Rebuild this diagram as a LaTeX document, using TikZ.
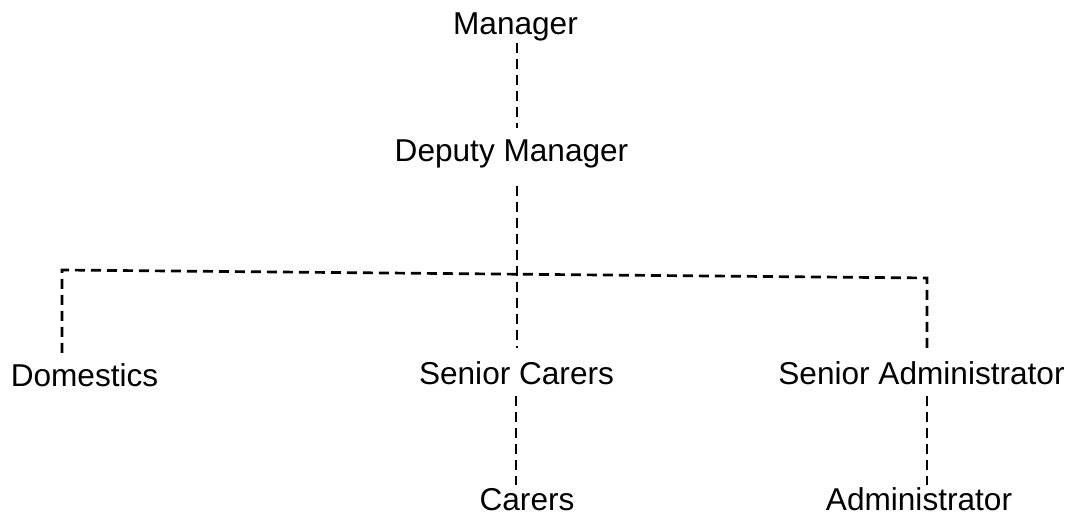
\documentclass[tikz,border=0pt]{standalone}
\usepackage{fontspec}
\setmainfont{Liberation Sans}
\begin{document}
\begin{tikzpicture}[x=0.5pt,y=-0.5pt,
  lbl/.style={inner sep=0pt, anchor=base, font=\fontsize{15.8pt}{19pt}\selectfont, text height=0.72em, text depth=0.21em},
  lblbottom/.style={lbl, text depth=0pt},
  conn/.style={draw=black, line width=1.35pt, dash pattern=on 5pt off 3pt}]
\useasboundingbox (0,0) rectangle (1072,517);
% nodes
\node[lbl] (mgr)  at (515.5,35)  {Manager};
\node[lbl] (dep)  at (511.5,162) {Deputy Manager};
\node[lbl] (dom)  at (84.5,387)  {Domestics};
\node[lbl] (sc)   at (516.5,385) {Senior Carers};
\node[lbl] (sadm) at (921.5,385) {Senior Administrator};
\node[lblbottom] (car)  at (527,511)   {Carers};
\node[lblbottom] (adm)  at (919,511)   {Administrator};
% junction points
\coordinate (spine) at (517,274);
\coordinate (L) at (62,270);
\coordinate (R) at (927,278);
\coordinate (lowc) at (516,0);
% connectors
\draw[conn, shorten <=1.7pt, shorten >=9.6pt] (spine |- mgr.south) -- (spine |- dep.north);
\draw[conn, shorten <=9.7pt, shorten >=11.1pt] (spine |- dep.south) -- (spine |- sc.north);
\draw[conn, shorten <=9.6pt, shorten >=8.6pt] (L |- dom.north) -- (L) -- (R) -- (R |- sadm.north);
\draw[conn, shorten <=3.2pt, shorten >=5.4pt] (lowc |- sc.south) -- (lowc |- car.north);
\draw[conn, shorten <=3.2pt, shorten >=5.4pt] (R |- sadm.south) -- (R |- adm.north);
\end{tikzpicture}
\end{document}
